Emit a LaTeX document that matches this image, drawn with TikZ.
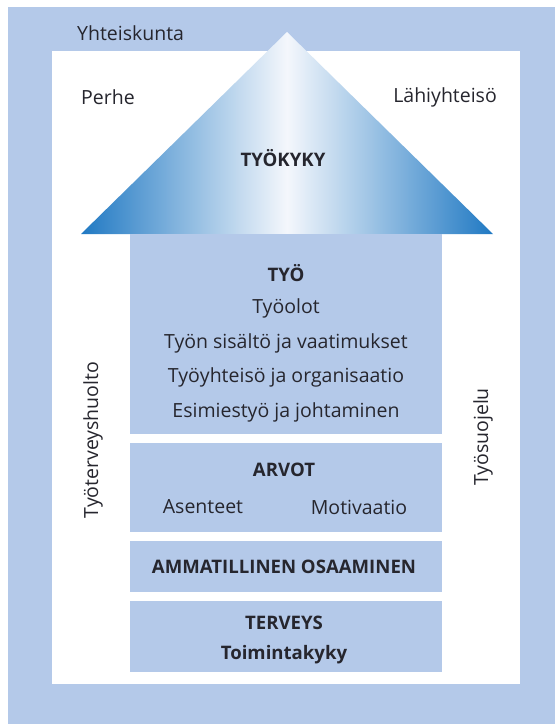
\documentclass[tikz,border=0pt]{standalone}
\usepackage{fontspec}
\setmainfont{Open Sans}
\definecolor{boxblue}{HTML}{B4C9E9}
\definecolor{roofdark}{HTML}{2079C3}
\definecolor{rooflight}{HTML}{F4F7FC}
\definecolor{txt}{HTML}{26262E}
\begin{document}
\begin{tikzpicture}[x=1pt,y=-1pt,
  panel/.style={fill=#1,draw=none,inner sep=0pt,outer sep=0pt,anchor=north west},
  lbl/.style={text=txt,inner sep=0pt,font=\fontsize{19.5}{22}\selectfont},
  blbl/.style={lbl,font=\fontsize{18.6}{22}\selectfont\bfseries}]
\useasboundingbox (0,0) rectangle (555,724);
\node[panel=boxblue,minimum width=547pt,minimum height=717pt] (outer) at (8,7) {};
\node[panel=white,minimum width=468pt,minimum height=633pt] (inner) at (52,51) {};
\coordinate (roofL) at (81,234);
\coordinate (roofT) at (287,32);
\coordinate (roofR) at (493,234);
\shade[left color=roofdark,right color=roofdark,middle color=rooflight] (roofL) -- (roofT) -- (roofR) -- cycle;
\node[panel=boxblue,minimum width=312pt,minimum height=200pt] (tyo) at (130,234) {};
\node[panel=boxblue,minimum width=312pt,minimum height=89pt] (arvot) at (130,443) {};
\node[panel=boxblue,minimum width=312pt,minimum height=51pt] (amm) at (130,541) {};
\node[panel=boxblue,minimum width=312pt,minimum height=71pt] (terv) at (130,601) {};
% labels
\node[lbl,anchor=west] (yht) at (77,33) {Yhteiskunta};
\node[lbl,anchor=west] (perhe) at (81,97) {Perhe};
\node[lbl,anchor=east] (lahi) at (497,97) {Lähiyhteisö};
\node[blbl] (tyokyky) at (283,158) {TYÖKYKY};
\node[blbl] (tyoT) at (286,273) {TYÖ};
\node[lbl] (t1) at (286,308) {Työolot};
\node[lbl] (t2) at (286,343) {Työn sisältö ja vaatimukset};
\node[lbl] (t3) at (286,377) {Työyhteisö ja organisaatio};
\node[lbl] (t4) at (286,412) {Esimiestyö ja johtaminen};
\node[blbl] (arvT) at (284,470) {ARVOT};
\node[lbl] (as) at (203,507) {Asenteet};
\node[lbl] (mot) at (359,507) {Motivaatio};
\node[blbl] (ammT) at (284,567) {AMMATILLINEN OSAAMINEN};
\node[blbl] (tervT) at (284,623) {TERVEYS};
\node[blbl] (toim) at (284,655) {Toimintakyky};
\node[lbl,rotate=90] (tth) at (93,440) {Työterveyshuolto};
\node[lbl,rotate=90] (tsu) at (483,437) {Työsuojelu};
\end{tikzpicture}
\end{document}
